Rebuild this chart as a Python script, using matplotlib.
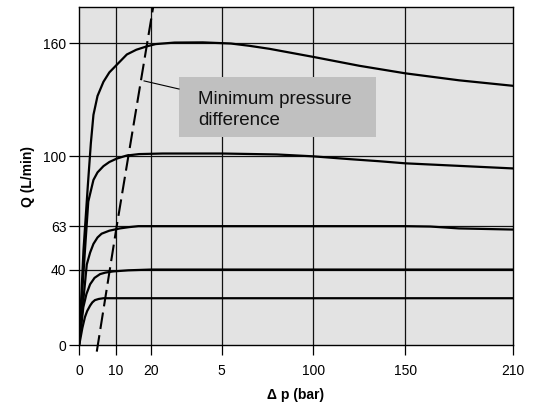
import numpy as np
import matplotlib
matplotlib.use('Agg')
import matplotlib.pyplot as plt
from matplotlib.patches import Rectangle

plt.rcParams['font.family'] = ['Liberation Sans', 'DejaVu Sans']

# x axis is not linear: break points of the drawn scale (value -> relative length)
scale_vals = [0, 10, 20, 50, 100, 150, 210]
scale_pos = [0, 37, 72, 142.7, 234.3, 326.3, 433.7]

x_ticks = [0, 10, 20, 50, 100, 150, 210]
x_labels = ['0', '10', '20', '5', '100', '150', '210']
y_ticks = [0, 40, 63, 100, 160]

# characteristic curves, delta p (bar) -> Q (L/min)
q160_dp = [0, 1.2, 2.4, 3.2, 3.9, 5.0, 6.6, 8.2, 10.2, 13.1, 15.8, 18.8, 22, 30, 42, 55, 65, 76, 100, 125, 150, 180, 210]
q160_q = [0, 50, 85, 107, 122, 132, 139.5, 144.5, 148.5, 154, 156.5, 158.3, 159.5, 160.3, 160.4, 159.8, 158.6, 157, 152.7, 148, 144, 140.3, 137.4]

q100_dp = [0, 1.0, 1.6, 2.5, 3.9, 5.0, 6.6, 8.2, 10.2, 13, 16.6, 25, 50, 80, 100, 120, 136, 150, 210]
q100_q = [0, 32, 50, 76, 87.5, 91.5, 94.8, 97, 98.8, 100.4, 101.2, 101.5, 101.5, 101, 100, 98.5, 97.4, 96.3, 93.6]

q63_dp = [0, 2.1, 3.0, 3.9, 5.0, 6.1, 8.2, 11.1, 13.8, 16.4, 50, 100, 150, 164, 180, 210]
q63_q = [0, 42.7, 49, 53.6, 57, 59, 60.6, 61.8, 62.5, 63, 63, 63, 63, 62.8, 61.8, 61.2]

q40_dp = [0, 1.16, 2.0, 3.0, 4.2, 5.7, 7.2, 9.2, 13.5, 20, 210]
q40_q = [0, 20, 27, 32.2, 35.6, 37.6, 38.4, 39.0, 39.6, 40, 40]

q25_dp = [0, 0.3, 0.9, 1.6, 2.2, 3.0, 3.6, 4.3, 5.3, 6.6, 210]
q25_q = [0, 2.6, 9, 14.8, 18, 20.9, 22.6, 23.8, 24.4, 24.8, 24.8]

# minimum pressure difference line
min_dp = [4.8, 10.2, 20.9]
min_q = [-3.5, 63, 179]


def fwd(x):
    return np.interp(x, scale_vals, scale_pos)


def inv(p):
    return np.interp(p, scale_pos, scale_vals)


fig = plt.figure(figsize=(5.39, 4.05), dpi=100)
ax = fig.add_axes([0.1466, 0.1481, 0.8046, 0.8339])
ax.set_facecolor('#e3e3e3')
ax.set_xscale('function', functions=(fwd, inv))
ax.set_xlim(0, 210)
ax.set_ylim(0, 179)

for xv in x_ticks[1:-1]:
    ax.axvline(xv, color='#111111', lw=0.9, zorder=1)
for yv in y_ticks[1:]:
    ax.axhline(yv, color='#111111', lw=0.9, zorder=1)

for dp, q in [(q160_dp, q160_q), (q100_dp, q100_q), (q63_dp, q63_q),
              (q40_dp, q40_q), (q25_dp, q25_q)]:
    ax.plot(dp, q, color='black', lw=1.6, zorder=3, solid_joinstyle='round')

ax.plot(min_dp, min_q, color='black', lw=1.5, dashes=(8, 3), clip_on=False, zorder=4)

ax.set_xticks(x_ticks)
ax.set_xticklabels(x_labels)
ax.set_yticks(y_ticks)
ax.minorticks_off()
ax.tick_params(axis='both', length=7, width=0.9, labelsize=10, color='black')
ax.tick_params(axis='y', pad=2)
ax.tick_params(axis='x', pad=7)
for s in ax.spines.values():
    s.set_linewidth(1.0)
    s.set_color('black')

ax.set_xlabel('Δ p (bar)', fontsize=10, fontweight='bold', labelpad=7)
ax.set_ylabel('Q (L/min)', fontsize=10, fontweight='bold', labelpad=6)

# annotation box with leader line
ax.add_patch(Rectangle((0.2306, 0.616), 0.4542, 0.1776, transform=ax.transAxes,
                       facecolor='#c0c0c0', edgecolor='none', zorder=5))
ax.plot([0.150, 0.2306], [0.782, 0.758], transform=ax.transAxes,
        color='black', lw=0.8, zorder=5)
ax.text(0.275, 0.696, 'Minimum pressure\ndifference', transform=ax.transAxes,
        fontsize=13.5, va='center', ha='left', linespacing=1.3, zorder=6, color='#111111')

fig.savefig('out.png', dpi=100)
